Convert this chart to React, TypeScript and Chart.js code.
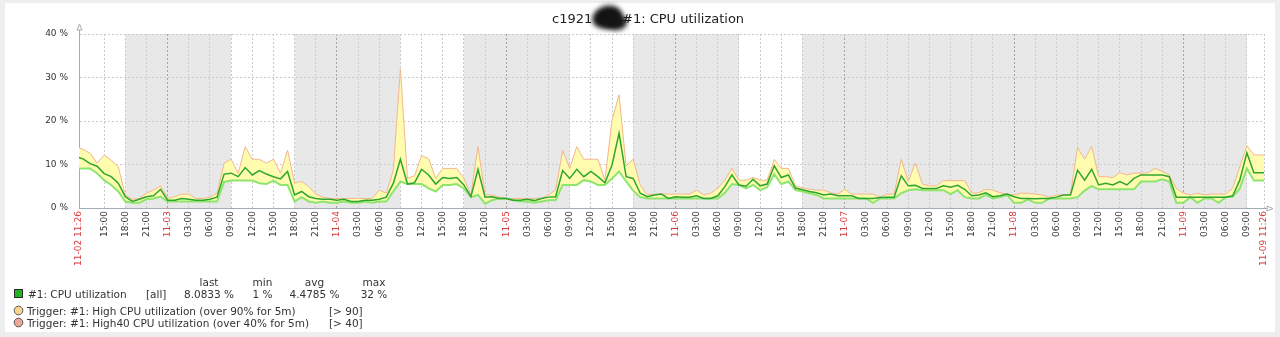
import React, { useEffect, useRef } from 'react';
import { Chart, registerables } from 'chart.js';

Chart.register(...registerables);

// Time axis: hours since 11-02 00:00
const START_H = 11 + 26 / 60; // 11-02 11:26
const END_H = START_H + 168; // 11-09 11:26
const FIRST_HOUR = 11; // first hourly trend point (11-02 11:00)

// Hourly CPU utilization (%), from 11-02 11:00 to 11-09 12:00
const avgValues = [
  11.8, 11.3, 10.2, 9.6, 7.9, 7.2, 5.7, 2.6, 1.5, 2.0,
  2.6, 2.8, 4.3, 1.8, 1.8, 2.2, 2.0, 1.8, 1.8, 2.0,
  2.5, 7.8, 8.0, 7.2, 9.3, 7.6, 8.6, 7.8, 7.2, 6.7,
  8.4, 3.0, 3.8, 2.6, 2.2, 2.0, 2.0, 1.8, 2.0, 1.5,
  1.5, 1.8, 1.8, 2.0, 2.5, 5.7, 11.2, 5.5, 5.8, 8.9,
  7.6, 5.5, 7.0, 6.8, 7.0, 5.3, 2.6, 8.9, 2.5, 2.6,
  2.2, 2.2, 1.8, 1.8, 2.0, 1.7, 2.2, 2.5, 2.6, 8.6,
  6.8, 8.9, 7.2, 8.4, 7.2, 5.8, 9.9, 17.2, 7.2, 6.8,
  3.4, 2.6, 3.0, 3.2, 2.2, 2.6, 2.5, 2.5, 2.8, 2.2,
  2.2, 2.8, 4.9, 7.6, 5.3, 5.0, 6.6, 5.1, 5.5, 9.7,
  7.0, 7.6, 4.6, 4.2, 3.8, 3.5, 3.0, 3.2, 2.8, 2.8,
  2.8, 2.2, 2.2, 2.2, 2.4, 2.5, 2.5, 7.4, 5.1, 5.2,
  4.5, 4.5, 4.5, 5.1, 4.8, 5.2, 4.3, 2.8, 3.0, 3.5,
  2.6, 2.8, 3.2, 2.6, 2.2, 2.2, 2.1, 2.2, 2.2, 2.5,
  3.0, 3.0, 8.7, 6.4, 8.9, 5.3, 5.7, 5.3, 6.1, 5.3,
  6.8, 7.6, 7.6, 7.6, 7.6, 7.2, 2.5, 2.5, 2.5, 2.5,
  2.5, 2.5, 2.5, 2.5, 2.8, 6.4, 12.7, 8.1, 8.1, 8.1,
];

const maxValues = [
  14.1, 13.5, 12.6, 10.3, 12.2, 11.0, 9.5, 3.0, 2.0, 2.2,
  3.4, 4.1, 5.1, 2.2, 2.6, 3.2, 3.2, 2.2, 2.2, 2.5,
  3.4, 10.3, 11.2, 8.0, 14.1, 11.2, 11.2, 10.3, 11.2, 8.0,
  13.3, 5.7, 6.1, 4.9, 3.2, 2.5, 2.2, 2.2, 2.2, 2.2,
  2.2, 2.2, 2.2, 4.1, 3.4, 8.7, 32.0, 6.8, 7.4, 12.0,
  11.4, 6.8, 9.1, 9.1, 9.1, 6.8, 3.0, 14.1, 3.0, 3.0,
  2.5, 2.2, 2.2, 2.2, 2.2, 2.2, 2.2, 3.0, 4.1, 13.2,
  9.1, 14.1, 11.2, 11.2, 11.2, 6.4, 20.2, 26.0, 9.7, 11.2,
  5.3, 3.0, 3.2, 3.2, 3.2, 3.2, 3.2, 3.2, 4.1, 3.0,
  3.4, 4.5, 6.4, 9.1, 6.4, 6.4, 7.0, 6.4, 6.4, 11.2,
  9.1, 9.1, 5.1, 4.6, 4.3, 4.1, 4.1, 3.5, 3.2, 4.3,
  3.2, 3.2, 3.2, 3.2, 2.5, 3.2, 3.2, 11.2, 6.1, 10.3,
  5.5, 5.1, 5.1, 6.3, 6.3, 6.3, 6.3, 3.4, 3.5, 4.3,
  4.1, 3.5, 3.2, 3.0, 3.4, 3.4, 3.2, 3.0, 2.5, 3.0,
  3.0, 3.2, 13.9, 11.2, 14.1, 7.2, 7.2, 7.0, 8.1, 7.6,
  8.0, 8.0, 8.1, 9.1, 8.4, 7.6, 4.5, 3.4, 3.0, 3.4,
  3.0, 3.2, 3.2, 3.2, 4.5, 9.5, 14.3, 12.2, 12.2, 12.2,
];

const minValues = [
  9.1, 9.1, 9.1, 8.0, 6.4, 5.3, 3.8, 1.5, 1.2, 1.2,
  2.0, 2.2, 2.6, 1.5, 1.5, 1.5, 1.5, 1.5, 1.5, 1.5,
  1.5, 6.0, 6.3, 6.3, 6.3, 6.3, 5.7, 5.5, 6.3, 5.3,
  5.3, 1.5, 2.5, 1.5, 1.2, 1.5, 1.2, 1.2, 1.5, 1.2,
  1.2, 1.5, 1.2, 1.5, 1.5, 3.8, 6.1, 5.5, 5.5, 5.5,
  4.5, 3.8, 5.3, 5.3, 5.5, 4.5, 2.5, 3.0, 1.0, 1.8,
  2.2, 2.2, 1.8, 1.5, 1.5, 1.2, 1.5, 1.8, 1.8, 5.3,
  5.3, 5.3, 6.4, 6.1, 5.3, 5.3, 6.8, 8.4, 6.1, 4.0,
  2.5, 2.2, 2.2, 2.2, 2.2, 2.2, 2.2, 2.2, 2.2, 2.2,
  2.2, 2.2, 3.5, 5.5, 5.3, 4.5, 5.3, 4.1, 4.8, 7.8,
  5.5, 6.1, 4.1, 3.8, 3.4, 3.0, 2.2, 2.2, 2.2, 2.2,
  2.2, 2.2, 2.2, 1.2, 2.2, 2.2, 2.2, 3.4, 4.1, 4.3,
  4.1, 4.1, 4.1, 4.1, 3.2, 4.1, 2.5, 2.2, 2.2, 3.0,
  2.2, 2.5, 3.0, 1.2, 1.2, 2.0, 1.2, 1.2, 2.2, 2.2,
  2.2, 2.2, 2.5, 4.0, 5.1, 4.3, 4.3, 4.3, 4.3, 4.3,
  4.3, 6.1, 6.1, 6.1, 6.6, 6.1, 1.2, 1.2, 2.5, 1.2,
  2.2, 2.2, 1.2, 2.5, 2.6, 4.5, 9.1, 6.3, 6.3, 6.3,
];

// X tick labels: start, every 3 hours, end
const xTickLabels = [
  '11-02 11:26', '15:00', '18:00', '21:00',
  '11-03', '03:00', '06:00', '09:00', '12:00', '15:00', '18:00', '21:00',
  '11-04', '03:00', '06:00', '09:00', '12:00', '15:00', '18:00', '21:00',
  '11-05', '03:00', '06:00', '09:00', '12:00', '15:00', '18:00', '21:00',
  '11-06', '03:00', '06:00', '09:00', '12:00', '15:00', '18:00', '21:00',
  '11-07', '03:00', '06:00', '09:00', '12:00', '15:00', '18:00', '21:00',
  '11-08', '03:00', '06:00', '09:00', '12:00', '15:00', '18:00', '21:00',
  '11-09', '03:00', '06:00', '09:00', '11-09 11:26',
];
const xTickValues = [START_H, ...xTickLabels.slice(1, -1).map((_, i) => 15 + 3 * i), END_H];

// Non-working time (hours since 11-02 00:00)
const shadedRanges = [
  [18, 33],
  [42, 57],
  [66, 81],
  [90, 105],
  [114, 177],
];

const legendHeaders = ['last', 'min', 'avg', 'max'];
const legendStats = ['8.0833 %', '1 %', '4.4785 %', '32 %'];
const itemName = '#1: CPU utilization';
const itemFunc = '[all]';
const triggers = [
  { text: 'Trigger: #1: High CPU utilization (over 90% for 5m)', cond: '[> 90]', color: '#fcd68e' },
  { text: 'Trigger: #1: High40 CPU utilization (over 40% for 5m)', cond: '[> 40]', color: '#eca899' },
];

const AXIS_COLOR = '#a4acb6';
const FILL = '#fffcb0';
const FONT = '"DejaVu Sans", sans-serif';

const zbxPlugin = {
  id: 'zbxFrame',
  beforeDraw(chart: any) {
    const { ctx, chartArea, scales } = chart;
    const xs = scales.x;
    ctx.save();
    ctx.fillStyle = '#eceef0';
    ctx.fillRect(0, 0, chart.width, chart.height);
    ctx.fillStyle = '#ffffff';
    ctx.fillRect(5, 3, chart.width - 10, chart.height - 8);
    ctx.fillStyle = '#e8e8e8';
    for (const [a, b] of shadedRanges) {
      const x1 = xs.getPixelForValue(a);
      const x2 = xs.getPixelForValue(b);
      ctx.fillRect(x1, chartArea.top, x2 - x1, chartArea.bottom - chartArea.top);
    }
    ctx.restore();
  },
  afterDraw(chart: any) {
    const { ctx, chartArea } = chart;
    const L = chartArea.left + 0.5;
    const B = chartArea.bottom + 0.5;
    const R = chartArea.right;
    ctx.save();
    // axis arrows
    ctx.strokeStyle = AXIS_COLOR;
    ctx.lineWidth = 1;
    ctx.beginPath();
    ctx.moveTo(L, chartArea.top);
    ctx.lineTo(L, chartArea.top - 5);
    ctx.moveTo(R, B);
    ctx.lineTo(R + 4, B);
    ctx.stroke();
    ctx.fillStyle = '#ffffff';
    ctx.beginPath();
    ctx.moveTo(L, chartArea.top - 10);
    ctx.lineTo(L - 2.5, chartArea.top - 4);
    ctx.lineTo(L + 2.5, chartArea.top - 4);
    ctx.closePath();
    ctx.fill();
    ctx.stroke();
    ctx.beginPath();
    ctx.moveTo(R + 9, B);
    ctx.lineTo(R + 3, B - 2.5);
    ctx.lineTo(R + 3, B + 2.5);
    ctx.closePath();
    ctx.fill();
    ctx.stroke();

    // title
    ctx.fillStyle = '#1f1f1f';
    ctx.font = `13px ${FONT}`;
    ctx.textAlign = 'left';
    ctx.textBaseline = 'alphabetic';
    ctx.fillText('c1921', 552, 23);
    ctx.fillText('#1: CPU utilization', 622, 23);
    ctx.save();
    ctx.filter = 'blur(2.5px)';
    ctx.fillStyle = '#141414';
    ctx.beginPath();
    ctx.ellipse(607, 17, 15, 11, -0.3, 0, Math.PI * 2);
    ctx.fill();
    ctx.beginPath();
    ctx.ellipse(614, 21, 13, 9, 0.2, 0, Math.PI * 2);
    ctx.fill();
    ctx.restore();

    // legend
    const cols = [209, 262.5, 314.5, 374];
    ctx.font = `10.5px ${FONT}`;
    ctx.fillStyle = '#333333';
    ctx.textAlign = 'center';
    legendHeaders.forEach((h, i) => ctx.fillText(h, cols[i], 286));
    legendStats.forEach((s, i) => ctx.fillText(s, cols[i], 297.5));
    ctx.textAlign = 'left';
    ctx.fillText(itemName, 28, 297.5);
    ctx.fillText(itemFunc, 146, 297.5);
    ctx.fillStyle = '#22b422';
    ctx.fillRect(14, 289, 9, 9);
    ctx.strokeStyle = '#2a2a2a';
    ctx.strokeRect(14.5, 289.5, 8, 8);
    triggers.forEach((t, i) => {
      const cy = 310.5 + i * 12;
      ctx.beginPath();
      ctx.arc(18.5, cy, 4.3, 0, Math.PI * 2);
      ctx.fillStyle = t.color;
      ctx.fill();
      ctx.strokeStyle = '#555555';
      ctx.stroke();
      ctx.fillStyle = '#333333';
      ctx.fillText(t.text, 27, cy + 4);
      ctx.fillText(t.cond, 329, cy + 4);
    });
    ctx.restore();
  },
};

const toPoints = (vals: number[]) => vals.map((v, i) => ({ x: FIRST_HOUR + i, y: v }));

export default function App() {
  const ref = useRef<HTMLCanvasElement>(null);

  useEffect(() => {
    if (!ref.current) return;
    const chart = new Chart(ref.current, {
      type: 'line',
      data: {
        datasets: [
          {
            label: 'avg',
            data: toPoints(avgValues),
            borderColor: '#2ea52e',
            borderWidth: 1.5,
            fill: false,
            order: 1,
          },
          {
            label: 'max',
            data: toPoints(maxValues),
            borderColor: '#f3b690',
            backgroundColor: FILL,
            borderWidth: 1,
            fill: { target: 2, above: FILL, below: FILL },
            order: 3,
          },
          {
            label: 'min',
            data: toPoints(minValues),
            borderColor: '#8ee56c',
            borderWidth: 2,
            fill: false,
            order: 2,
          },
        ],
      },
      options: {
        responsive: false,
        animation: false,
        devicePixelRatio: 1,
        layout: { padding: { left: 0, right: 16, top: 34, bottom: 29 } },
        plugins: {
          legend: { display: false },
          tooltip: { enabled: false },
          title: { display: false },
        },
        elements: { point: { radius: 0 }, line: { tension: 0 } },
        scales: {
          x: {
            type: 'linear',
            min: START_H,
            max: END_H,
            afterBuildTicks: (s: any) => {
              s.ticks = xTickValues.map((v) => ({ value: v }));
            },
            afterFit: (s: any) => {
              s.height = 100;
            },
            ticks: {
              autoSkip: false,
              minRotation: 90,
              maxRotation: 90,
              padding: 3,
              font: { family: FONT, size: 9 },
              color: (c: any) => (xTickLabels[c.index] && xTickLabels[c.index].includes('-') ? '#d83a3a' : '#333333'),
              callback: (_v: any, i: number) => xTickLabels[i],
            },
            grid: {
              drawTicks: false,
              lineWidth: 1,
              color: (c: any) => {
                const v = c.tick ? c.tick.value : 0;
                if (c.index === 0) return 'rgba(0,0,0,0)';
                if (Math.abs(v % 24) < 1e-6) return '#a3a3a3';
                return '#cccccc';
              },
            },
            border: { display: true, color: AXIS_COLOR, width: 1, dash: [2, 2] },
          },
          y: {
            min: 0,
            max: 40,
            afterFit: (s: any) => {
              s.width = 79;
            },
            ticks: {
              stepSize: 10,
              padding: 11,
              font: { family: FONT, size: 9 },
              color: '#333333',
              callback: (v: any) => `${v} %`,
            },
            grid: {
              drawTicks: false,
              lineWidth: 1,
              color: (c: any) => (c.tick && c.tick.value === 0 ? 'rgba(0,0,0,0)' : '#cccccc'),
            },
            border: { display: true, color: AXIS_COLOR, width: 1, dash: [2, 2] },
          },
        },
      },
      plugins: [zbxPlugin],
    } as any);
    return () => chart.destroy();
  }, []);

  return (
    <div style={{ position: 'fixed', left: 0, top: 0, width: 1280, height: 337 }}>
      <canvas ref={ref} width={1280} height={337} style={{ display: 'block', width: 1280, height: 337 }} />
    </div>
  );
}
